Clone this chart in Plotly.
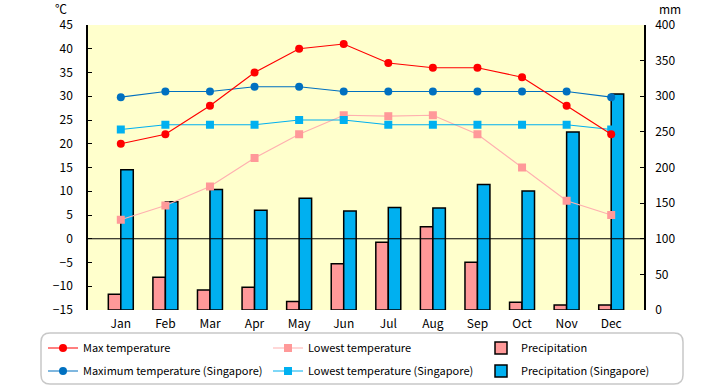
import plotly.graph_objects as go

months = ["Jan", "Feb", "Mar", "Apr", "May", "Jun", "Jul", "Aug", "Sep", "Oct", "Nov", "Dec"]
max_temp = [20, 22, 28, 35, 40, 41, 37, 36, 36, 34, 28, 22]
low_temp = [4, 7, 11, 17, 22, 26, 25.8, 26, 22, 15, 8, 5]
sg_max_temp = [29.8, 31, 31, 32, 32, 31, 31, 31, 31, 31, 31, 29.8]
sg_low_temp = [23, 24, 24, 24, 25, 25, 24, 24, 24, 24, 24, 23]
precip = [22, 46, 28, 32, 12, 65, 95, 117, 67, 11, 7, 7]
sg_precip = [197, 152, 169, 140, 157, 139, 144, 143, 176, 167, 250, 303]

FONT = "Noto Sans CJK JP"
W, H = 720, 385
L, R, T, B = 88, 76, 25, 75
pw, ph = W - L - R, H - T - B

def px(x):
    return (x - L) / pw

def py(y):
    return (H - B - y) / ph

fig = go.Figure()

fig.add_trace(go.Bar(x=months, y=precip, name="Precipitation", yaxis="y",
                     marker=dict(color="#FF9999", line=dict(color="black", width=1.5)),
                     offsetgroup="a", legend="legend3"))
fig.add_trace(go.Bar(x=months, y=sg_precip, name="Precipitation (Singapore)", yaxis="y",
                     marker=dict(color="#00B0F0", line=dict(color="black", width=1.5)),
                     offsetgroup="b", legend="legend6"))

fig.add_trace(go.Scatter(x=months, y=low_temp, name="Lowest temperature", yaxis="y2",
                         mode="lines+markers", line=dict(color="#FFB0B0", width=1.2),
                         marker=dict(symbol="square", size=8, color="#FF9999"),
                         legend="legend2"))
fig.add_trace(go.Scatter(x=months, y=sg_low_temp, name="Lowest temperature (Singapore)", yaxis="y2",
                         mode="lines+markers", line=dict(color="#00B0F0", width=1.2),
                         marker=dict(symbol="square", size=8, color="#00B0F0"),
                         legend="legend5"))
fig.add_trace(go.Scatter(x=months, y=sg_max_temp, name="Maximum temperature (Singapore)", yaxis="y2",
                         mode="lines+markers", line=dict(color="#0070C0", width=1.2),
                         marker=dict(symbol="circle", size=8, color="#0070C0"),
                         legend="legend4"))
fig.add_trace(go.Scatter(x=months, y=max_temp, name="Max temperature", yaxis="y2",
                         mode="lines+markers", line=dict(color="#FF0000", width=1.2),
                         marker=dict(symbol="circle", size=8, color="#FF0000"),
                         legend="legend"))

# legend rounded box
x0, x1, y0, y1 = px(41), px(683), py(333), py(384)
rx, ry = 9 / pw, 9 / ph
path = (f"M {x0+rx},{y0} L {x1-rx},{y0} Q {x1},{y0} {x1},{y0-ry} "
        f"L {x1},{y1+ry} Q {x1},{y1} {x1-rx},{y1} L {x0+rx},{y1} "
        f"Q {x0},{y1} {x0},{y1+ry} L {x0},{y0-ry} Q {x0},{y0} {x0+rx},{y0} Z")
fig.add_shape(type="path", path=path, xref="paper", yref="paper",
              line=dict(color="#C8C8C8", width=1.5), layer="below")
fig.add_shape(type="line", xref="paper", x0=0, x1=1, yref="y2", y0=0, y1=0,
              line=dict(color="black", width=1.2), layer="above")

def leg(xp, yp):
    return dict(orientation="h", bgcolor="rgba(0,0,0,0)", borderwidth=0,
                font=dict(family=FONT, size=11, color="black"),
                xanchor="left", yanchor="middle", x=px(xp), y=py(yp), itemwidth=30,
                visible=True)

col1, col2, col3 = 43, 268, 481
row1, row2 = 348, 371

fig.update_layout(
    width=W, height=H,
    margin=dict(l=L, r=R, t=T, b=B, autoexpand=False),
    paper_bgcolor="white", plot_bgcolor="#FFFFCC",
    font=dict(family=FONT, size=12, color="black"),
    showlegend=True,
    barmode="group", bargap=0.44, bargroupgap=0,
    xaxis=dict(type="category", showline=False, ticks="", showgrid=False,
               tickfont=dict(family=FONT, size=12), ticklabelstandoff=5),
    yaxis=dict(side="right", range=[0, 400], dtick=50, showgrid=False, zeroline=False,
               showline=True, linecolor="black", linewidth=1.5, ticks="inside", ticklen=4,
               tickcolor="black", tickfont=dict(family=FONT, size=12), ticklabelstandoff=7),
    yaxis2=dict(overlaying="y", side="left", range=[-15, 45], dtick=5, showgrid=False,
                zeroline=False, showline=True, linecolor="black", linewidth=1.5,
                ticks="inside", ticklen=4, tickcolor="black",
                tickfont=dict(family=FONT, size=12), ticklabelstandoff=11),
    legend=leg(col1, row1),
    legend2=leg(col2, row1),
    legend3=leg(col3, row1),
    legend4=leg(col1, row2),
    legend5=leg(col2, row2),
    legend6=leg(col3, row2),
    annotations=[
        dict(text="℃", xref="paper", yref="paper", x=px(61), y=py(8), showarrow=False,
             xanchor="center", yanchor="middle", font=dict(family=FONT, size=12)),
        dict(text="mm", xref="paper", yref="paper", x=px(670), y=py(8), showarrow=False,
             xanchor="center", yanchor="middle", font=dict(family=FONT, size=12)),
    ],
)

fig.write_html("out.html", post_script="document.body.style.margin='0';",
               config={"displayModeBar": False})
